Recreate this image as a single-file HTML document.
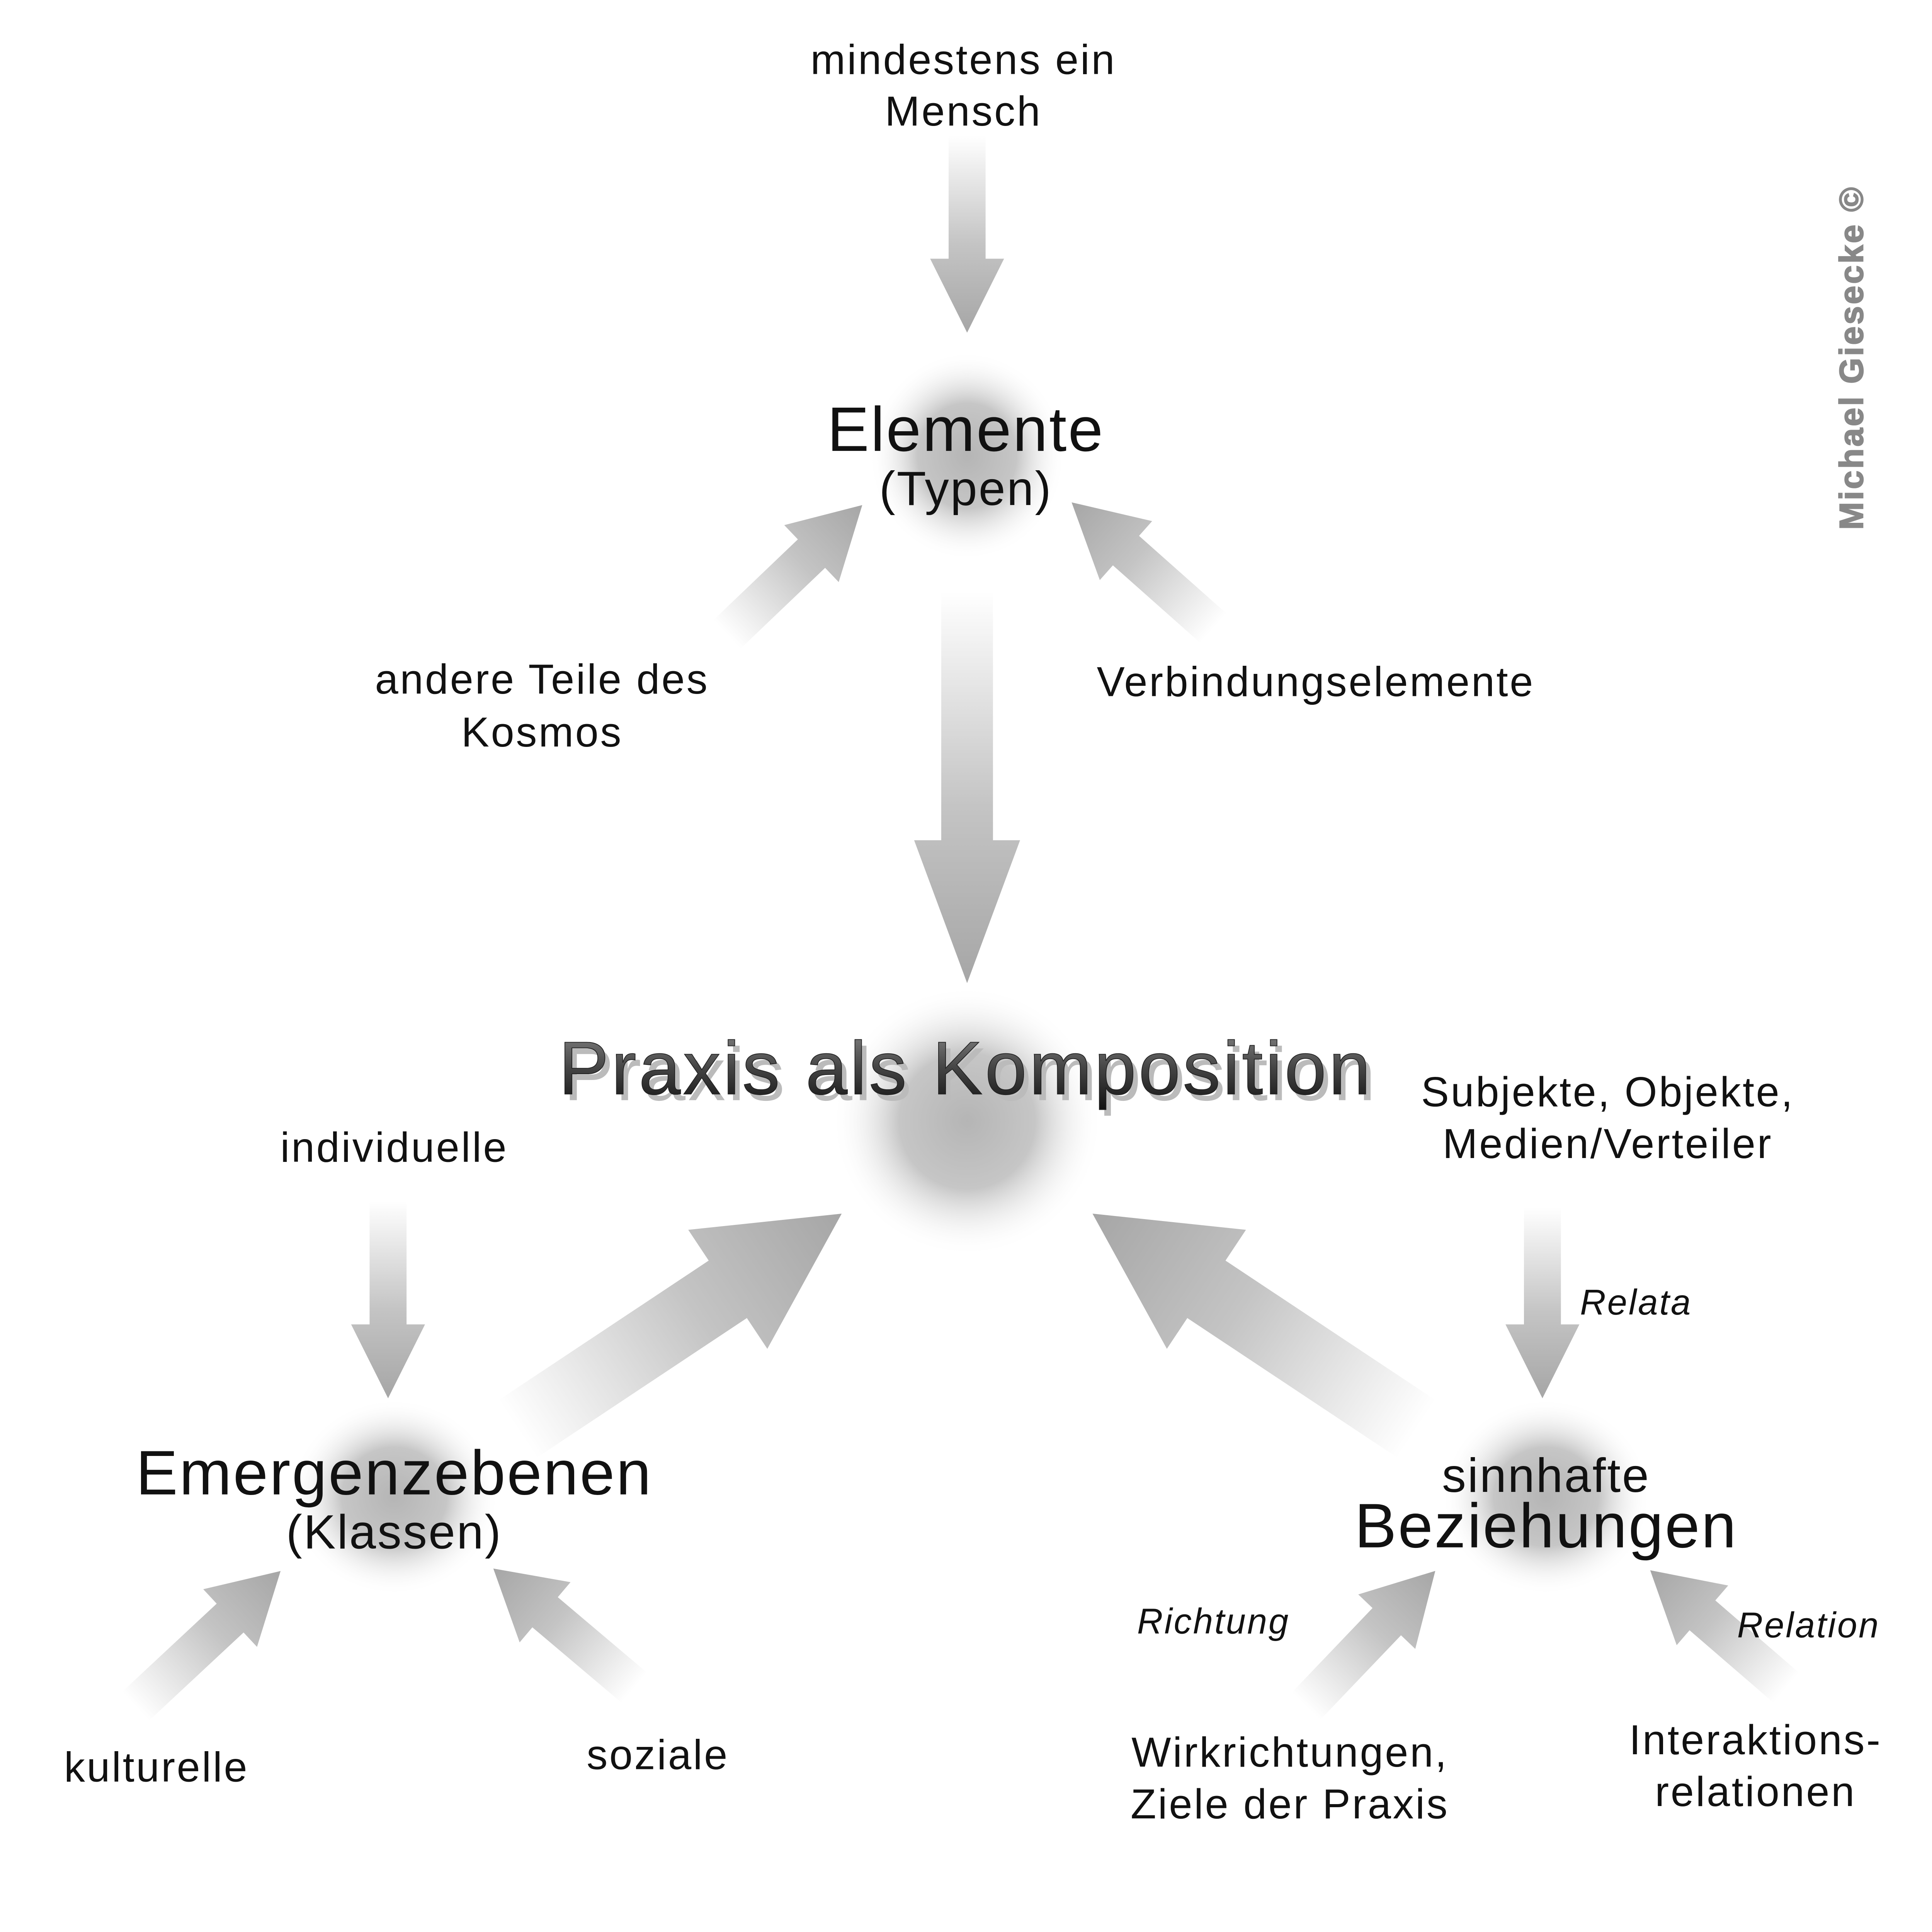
<!DOCTYPE html>
<html><head><meta charset="utf-8"><style>
html,body{margin:0;padding:0;background:#fff;width:5197px;height:5197px;overflow:hidden;}
svg{display:block;}
text{font-family:"Liberation Sans",sans-serif;fill:#111;}
</style></head><body>
<svg width="5197" height="5197" viewBox="0 0 1630 1630" xmlns="http://www.w3.org/2000/svg">
<defs>
<linearGradient id="ag" x1="0" y1="0" x2="1" y2="0">
<stop offset="0" stop-color="#fff"/><stop offset="0.55" stop-color="#c4c4c4"/><stop offset="1" stop-color="#a6a6a6"/>
</linearGradient>
<radialGradient id="bl">
<stop offset="0" stop-color="#b5b5b5"/><stop offset="0.5" stop-color="#c6c6c6"/><stop offset="1" stop-color="#fff" stop-opacity="0"/>
</radialGradient>
<linearGradient id="tg" x1="0" y1="0" x2="0" y2="1">
<stop offset="0" stop-color="#888"/><stop offset="0.5" stop-color="#444"/><stop offset="1" stop-color="#111"/>
</linearGradient>
</defs>
<rect width="1630" height="1630" fill="#fff"/>
<ellipse cx="785" cy="370" rx="80" ry="85" fill="url(#bl)"/>
<ellipse cx="785" cy="910" rx="110" ry="110" fill="url(#bl)"/>
<ellipse cx="320" cy="1215" rx="85" ry="80" fill="url(#bl)"/>
<ellipse cx="1255" cy="1215" rx="85" ry="80" fill="url(#bl)"/>

<g transform="translate(785,110) rotate(90)"><polygon points="0,-15 100,-15 100,-30 160,0 100,30 100,15 0,15" fill="url(#ag)"/></g>
<g transform="translate(785,480) rotate(90)"><polygon points="0,-21 202,-21 202,-43 318,0 202,43 202,21 0,21" fill="url(#ag)"/></g>
<g transform="translate(590,515) rotate(-43.7)"><polygon points="0,-16 95,-16 95,-32 152,0 95,32 95,16 0,16" fill="url(#ag)"/></g>
<g transform="translate(985,510) rotate(-138.4)"><polygon points="0,-16 95,-16 95,-32 154,0 95,32 95,16 0,16" fill="url(#ag)"/></g>
<g transform="translate(315,975) rotate(90)"><polygon points="0,-15 100,-15 100,-30 160,0 100,30 100,15 0,15" fill="url(#ag)"/></g>
<g transform="translate(420,1160) rotate(-33.6)"><polygon points="0,-28 205,-28 205,-58 316,0 205,58 205,28 0,28" fill="url(#ag)"/></g>
<g transform="translate(1150,1160) rotate(-146.4)"><polygon points="0,-28 205,-28 205,-58 316,0 205,58 205,28 0,28" fill="url(#ag)"/></g>
<g transform="translate(1252,980) rotate(90)"><polygon points="0,-15 95,-15 95,-30 155,0 95,30 95,15 0,15" fill="url(#ag)"/></g>
<g transform="translate(110,1385) rotate(-43)"><polygon points="0,-16 105,-16 105,-32 161,0 105,32 105,16 0,16" fill="url(#ag)"/></g>
<g transform="translate(515,1370) rotate(-139.8)"><polygon points="0,-16 95,-16 95,-32 150,0 95,32 95,16 0,16" fill="url(#ag)"/></g>
<g transform="translate(1060,1385) rotate(-46.3)"><polygon points="0,-16 95,-16 95,-32 152,0 95,32 95,16 0,16" fill="url(#ag)"/></g>
<g transform="translate(1450,1370) rotate(-139.2)"><polygon points="0,-16 90,-16 90,-32 146,0 90,32 90,16 0,16" fill="url(#ag)"/></g>

<g font-size="34" text-anchor="middle" letter-spacing="1.4">
<text x="782" y="60">mindestens ein</text>
<text x="782" y="102">Mensch</text>
<text x="440" y="563">andere Teile des</text>
<text x="440" y="606">Kosmos</text>
<text x="1068" y="565">Verbindungselemente</text>
<text x="320" y="943">individuelle</text>
<text x="1305" y="898">Subjekte, Objekte,</text>
<text x="1305" y="940">Medien/Verteiler</text>
<text x="127" y="1446">kulturelle</text>
<text x="534" y="1436">soziale</text>
<text x="1047" y="1434">Wirkrichtungen,</text>
<text x="1047" y="1476">Ziele der Praxis</text>
<text x="1425" y="1424">Interaktions-</text>
<text x="1425" y="1466">relationen</text>
</g>
<g font-size="29" font-style="italic" text-anchor="middle" letter-spacing="1.2">
<text x="1328" y="1067">Relata</text>
<text x="985" y="1326">Richtung</text>
<text x="1468" y="1329">Relation</text>
</g>
<g text-anchor="middle" letter-spacing="1.2">
<text x="784" y="366" font-size="51">Elemente</text>
<text x="784" y="410" font-size="39">(Typen)</text>
<text x="320" y="1213" font-size="51">Emergenzebenen</text>
<text x="320" y="1257" font-size="39">(Klassen)</text>
<text x="1255" y="1211" font-size="39">sinnhafte</text>
<text x="1255" y="1256" font-size="51">Beziehungen</text>
</g>
<text x="786" y="890" font-size="61" text-anchor="middle" letter-spacing="2" transform="translate(2,3)" style="fill:#bbb">Praxis als Komposition</text>
<text x="784" y="888" font-size="61" text-anchor="middle" letter-spacing="2" style="fill:url(#tg);stroke:#222;stroke-width:0.6">Praxis als Komposition</text>
<text transform="translate(1512,430) rotate(-90)" font-size="27" font-weight="bold" letter-spacing="1.5" style="fill:#888;stroke:#888;stroke-width:0.8">Michael Giesecke ©</text>
</svg>
</body></html>
